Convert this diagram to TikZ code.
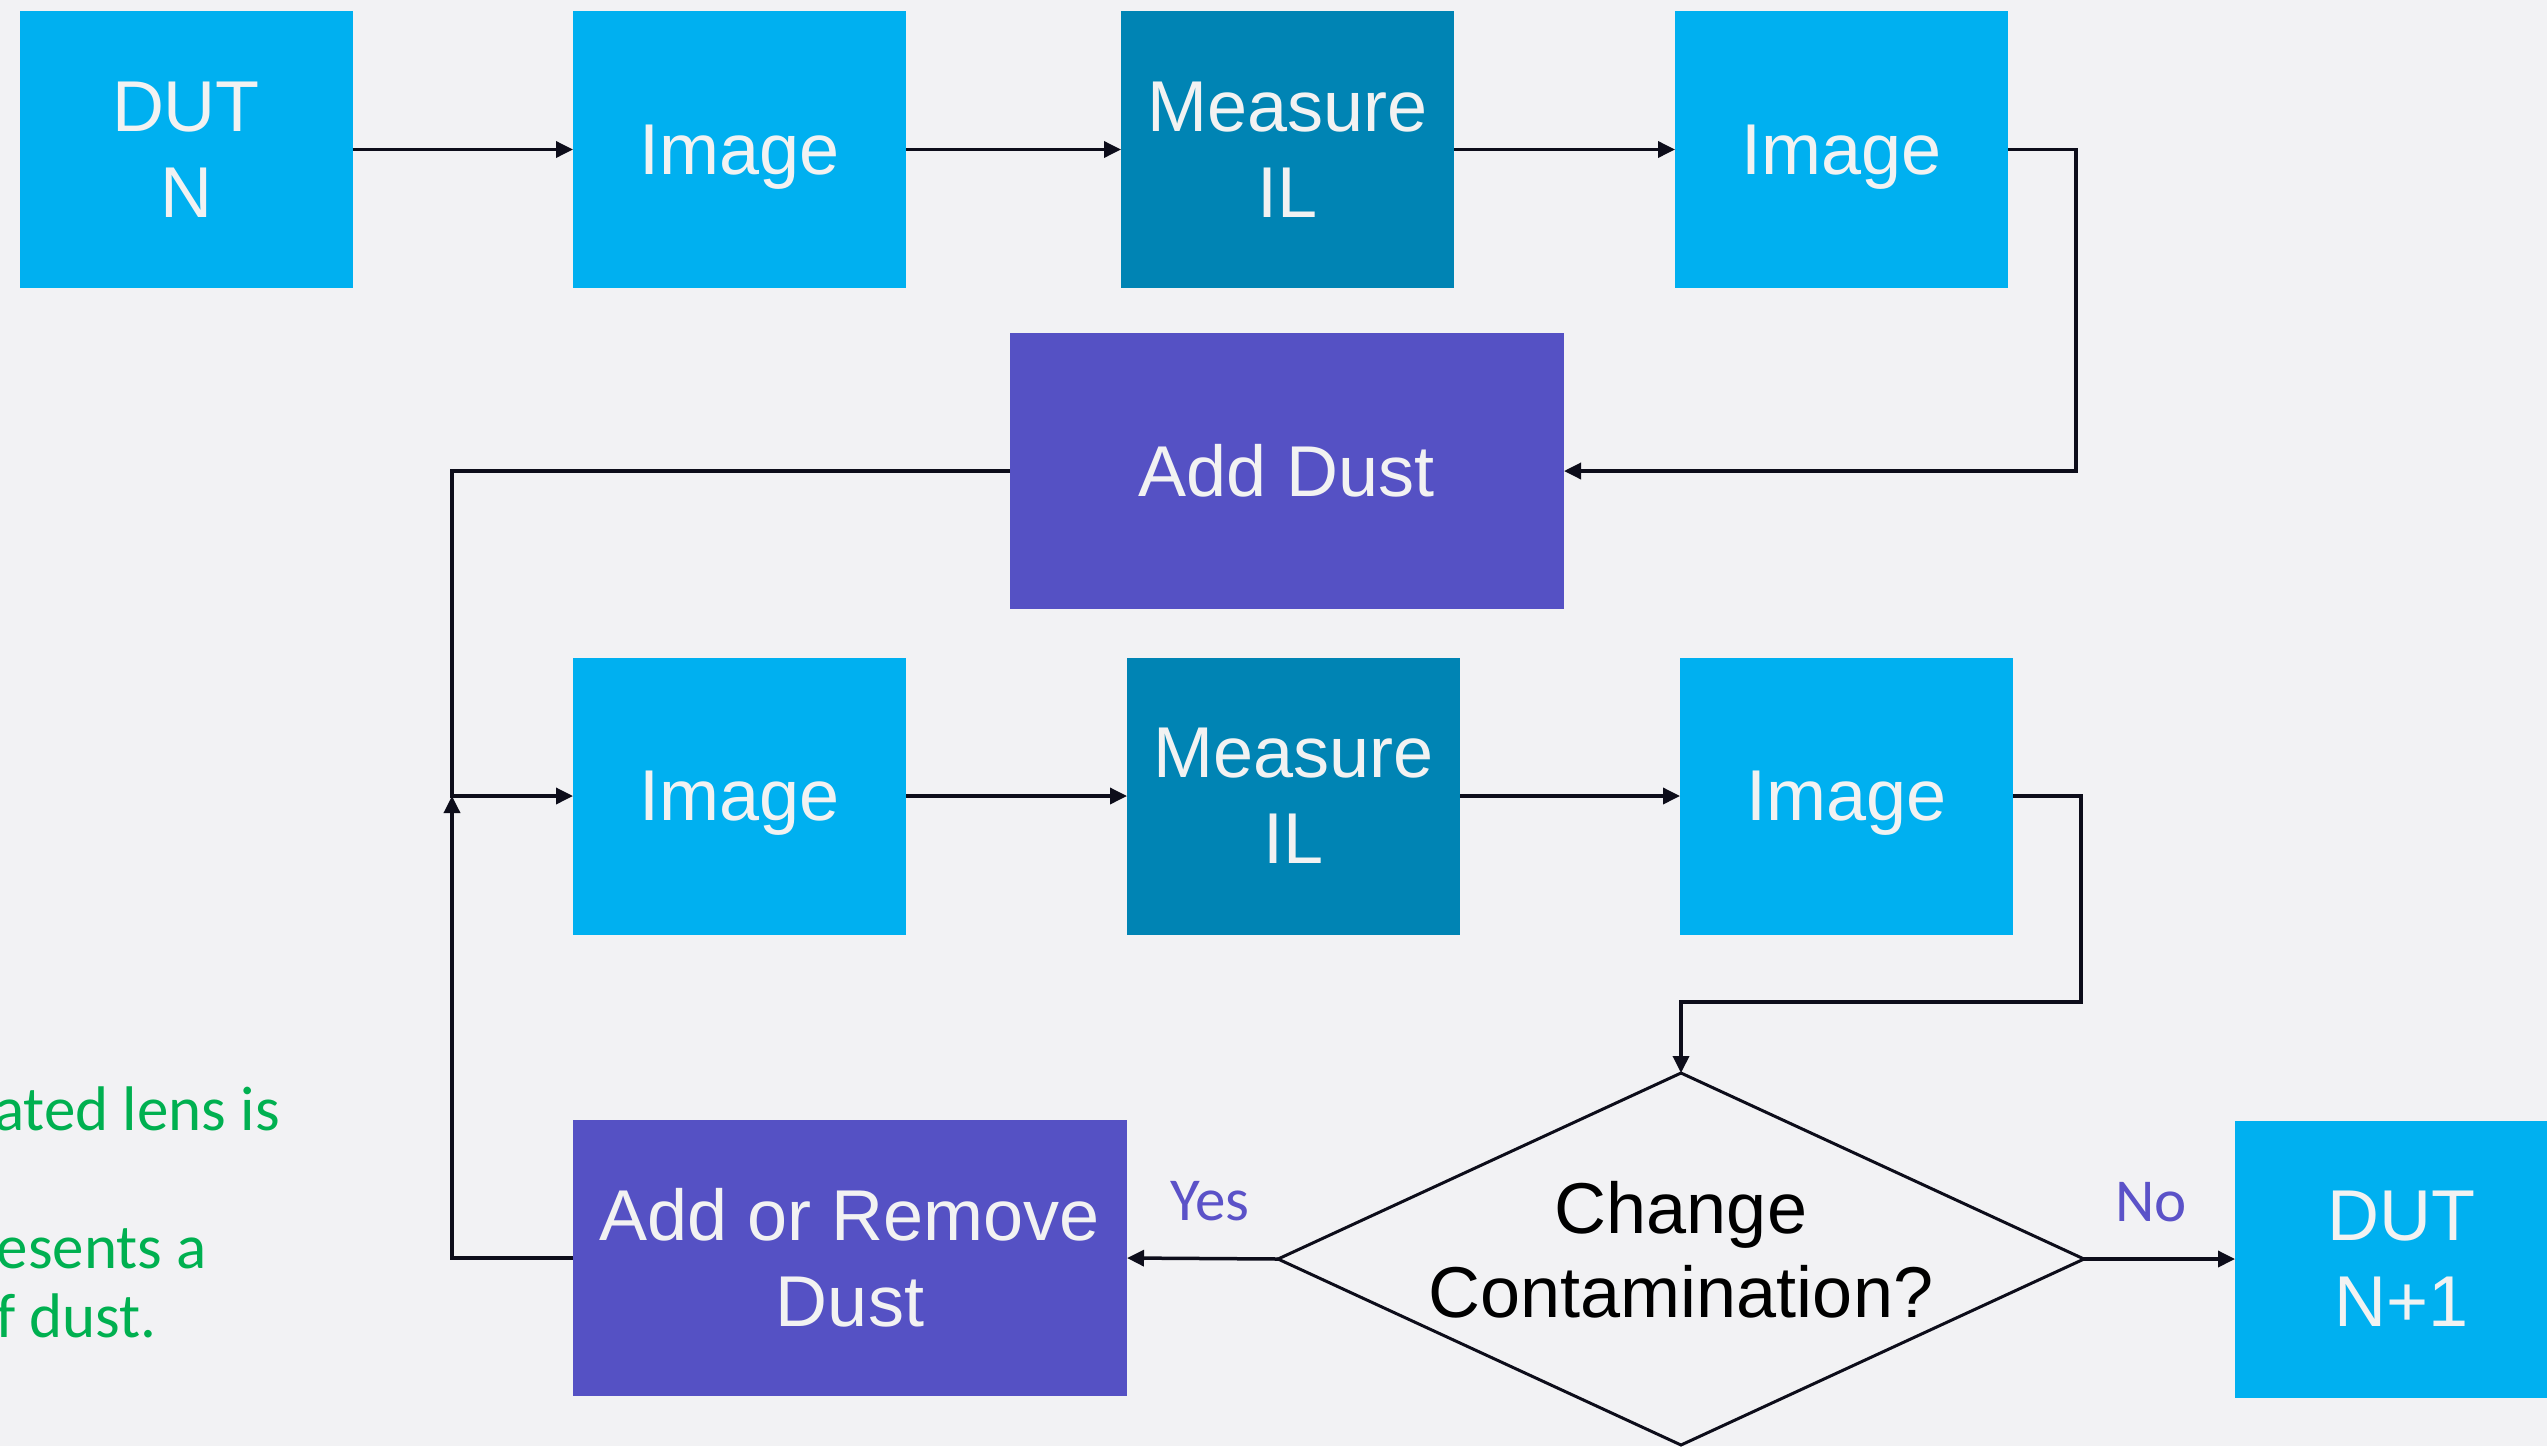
\documentclass[tikz,border=0pt]{standalone}
\usepackage{fontspec}
\setmainfont{Liberation Sans}
\newfontfamily\calib{Carlito}
\usetikzlibrary{arrows.meta,shapes.geometric}
\definecolor{bgc}{HTML}{F2F2F4}
\definecolor{lblue}{HTML}{00B0F0}
\definecolor{teal}{HTML}{0084B4}
\definecolor{purp}{HTML}{5551C4}
\definecolor{boxtxt}{HTML}{F2F2F2}
\definecolor{linec}{HTML}{0D0D1A}
\definecolor{lblc}{HTML}{5B52C8}
\definecolor{notec}{HTML}{00B050}
\begin{document}
\begin{tikzpicture}[x=1pt,y=-1pt,
  box/.style={rectangle, minimum width=333pt, minimum height=277pt, inner sep=0pt, outer sep=0pt,
    text=boxtxt, font=\fontsize{72}{86}\selectfont, align=center},
  lbox/.style={box, fill=lblue},
  ibox/.style={lbox, text depth=0pt},
  tbox/.style={box, fill=teal},
  pbox/.style={box, fill=purp, minimum width=554pt, minimum height=276pt},
  arr/.style={draw=linec, line width=3.5pt, -{Triangle[length=17pt,width=16pt]}},
  lbl/.style={text=lblc, font=\calib\fontsize{61}{72}\selectfont, inner sep=0pt},
  note/.style={text=notec, font=\calib\fontsize{63}{69}\selectfont, inner sep=0pt},
]
\useasboundingbox (0,0) rectangle (2547,1446);
\clip (0,0) rectangle (2547,1446);
\fill[bgc] (0,0) rectangle (2547,1446);

% row 1
\node[lbox] (dutn) at (186,149.5) {DUT\\N};
\node[ibox] (img1) at (739.5,149.5) {Image};
\node[tbox] (mil1) at (1287.5,149.5) {Measure\\IL};
\node[ibox] (img2) at (1841.5,149.5) {Image};
% add dust
\node[pbox] (adddust) at (1287,471) {Add Dust};
% row 2
\node[ibox] (img3) at (739.5,796) {Image};
\node[tbox] (mil2) at (1293.5,796) {Measure\\IL};
\node[ibox] (img4) at (1846.5,796) {Image};
% bottom row
\node[pbox] (addrem) at (850,1258) {Add or Remove\\Dust};
\node[diamond, draw=linec, line width=3pt, minimum width=806pt, minimum height=372pt,
      inner sep=0pt, outer sep=0pt] (dia) at (1681,1259) {};
\node[font=\fontsize{72}{84}\selectfont, align=center, text=black, inner sep=0pt] (diat) at (1681,1250) {Change\\Contamination?};
\node[lbox] (dutn1) at (2401.5,1259) {DUT\\N+1};

% labels
\node[lbl] (yes) at (1210,1201) {Yes};
\node[lbl] (no) at (2151,1202) {No};

% notes (partially cut off, as in the reference)
\node[note, anchor=base east] (n1) at (280,1130) {ated lens is};
\node[note, anchor=base east] (n2) at (207,1268) {esents a};
\node[note, anchor=base east] (n3) at (157,1337) {f dust.};

% helper coordinates
\coordinate (c1) at (2076,471);
\coordinate (j) at (452,796);
\coordinate (c3) at (2081,1002);

% connectors
\draw[arr] (dutn.east) -- (img1.west);
\draw[arr] (img1.east) -- (mil1.west);
\draw[arr] (mil1.east) -- (img2.west);
\draw[arr] (img2.east) -| (c1) -- (adddust.east);
\draw[arr] (adddust.west) -| (j) -- (img3.west);
\draw[arr] (img3.east) -- (mil2.west);
\draw[arr] (mil2.east) -- (img4.west);
\draw[arr] (img4.east) -| (c3) -| (dia.north);
\draw[arr] (dia.west) -- (addrem.east);
\draw[arr] (dia.east) -- (dutn1.west);
\draw[arr] (addrem.west) -| (j);
\end{tikzpicture}
\end{document}
